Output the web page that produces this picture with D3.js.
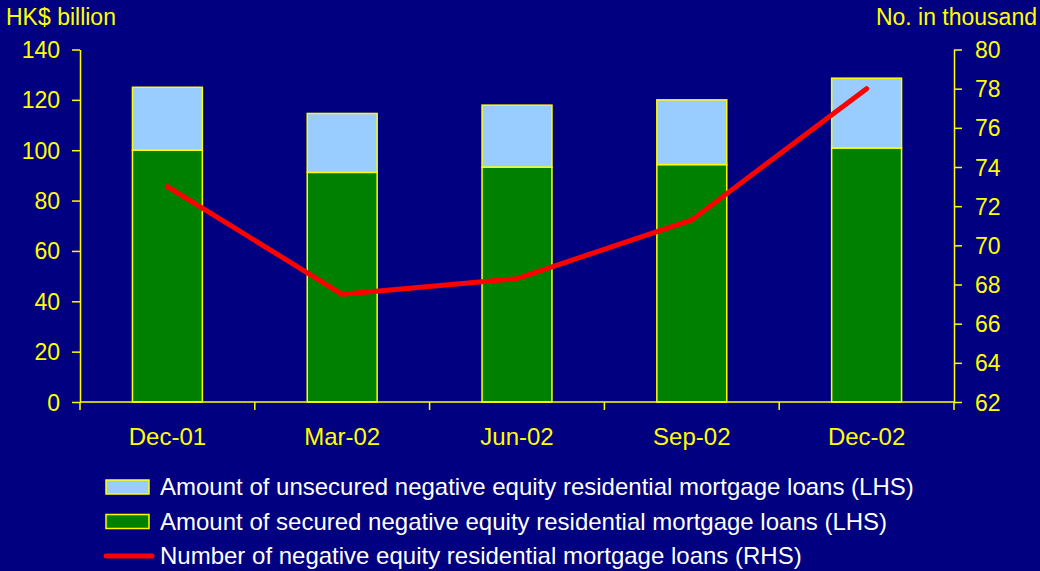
<!DOCTYPE html>
<html>
<head>
<meta charset="utf-8">
<script src="https://cdn.jsdelivr.net/npm/d3@7"></script>
<style>
  html, body { margin: 0; padding: 0; background: #000080; }
  svg { display: block; font-family: "Liberation Sans", Arial, sans-serif; }
</style>
</head>
<body>
<svg id="chart" width="1040" height="571"></svg>
<script>
// Quarter-end categories
const categories = ["Dec-01", "Mar-02", "Jun-02", "Sep-02", "Dec-02"];
// Secured negative equity loans, HK$ billion
const secured = [100, 91.2, 93.3, 94.3, 100.9];
// Unsecured portion, HK$ billion (stacked on top of secured)
const unsecured = [25, 23.4, 24.6, 25.7, 27.7];
// Number of negative equity loans, thousand
const numberLoans = [73.0, 67.5, 68.3, 71.3, 78.0];

const leftTicks = [0, 20, 40, 60, 80, 100, 120, 140];
const rightTicks = [62, 64, 66, 68, 70, 72, 74, 76, 78, 80];

const legendItems = [
  { label: "Amount of unsecured negative equity residential mortgage loans (LHS)", type: "box", color: "#99CCFF" },
  { label: "Amount of secured negative equity residential mortgage loans (LHS)", type: "box", color: "#008000" },
  { label: "Number of negative equity residential mortgage loans (RHS)", type: "line", color: "#FF0000" }
];

const YELLOW = "#FFFF00";
const svg = d3.select("#chart");

const plotLeft = 80, plotRight = 954, plotTop = 49.5, plotBottom = 402;

const xBand = d3.scaleBand().domain(categories).range([plotLeft, plotRight]);
const yL = d3.scaleLinear().domain([0, 140]).range([plotBottom, plotTop]);
const yR = d3.scaleLinear().domain([62, 80]).range([plotBottom, plotTop]);
const barWidth = xBand.bandwidth() * 0.4;
const cx = c => xBand(c) + xBand.bandwidth() / 2;

// Bars: secured (bottom) and unsecured (top)
const g = svg.append("g");
categories.forEach((c, i) => {
  const bx = cx(c) - barWidth / 2;
  g.append("rect")
    .attr("x", bx).attr("width", barWidth)
    .attr("y", yL(secured[i])).attr("height", yL(0) - yL(secured[i]))
    .attr("fill", "#008000").attr("stroke", YELLOW).attr("stroke-width", 1.5);
  g.append("rect")
    .attr("x", bx).attr("width", barWidth)
    .attr("y", yL(secured[i] + unsecured[i])).attr("height", yL(secured[i]) - yL(secured[i] + unsecured[i]))
    .attr("fill", "#99CCFF").attr("stroke", YELLOW).attr("stroke-width", 1.5);
});

// Axes
const axisStyle = sel => {
  sel.selectAll("path, line").attr("stroke", YELLOW).attr("stroke-width", 1.5);
  sel.selectAll("text").attr("fill", YELLOW).style("font-size", "23px")
    .style("font-family", "'Liberation Sans', Arial, sans-serif");
};

svg.append("g").attr("transform", `translate(${plotLeft},0)`)
  .call(d3.axisLeft(yL).tickValues(leftTicks).tickSize(8).tickSizeOuter(0).tickPadding(12))
  .call(axisStyle)
  .call(s => s.selectAll("text").attr("dy", "0.35em"));

svg.append("g").attr("transform", `translate(${plotRight},0)`)
  .call(d3.axisRight(yR).tickValues(rightTicks).tickSize(8).tickSizeOuter(0).tickPadding(13))
  .call(axisStyle)
  .call(s => s.selectAll("text").attr("dy", "0.35em"));

// Bottom axis: ticks at category boundaries
const bounds = categories.map(c => xBand(c)).concat([plotRight]);
const xg = svg.append("g");
xg.append("line").attr("x1", plotLeft).attr("x2", plotRight).attr("y1", plotBottom).attr("y2", plotBottom)
  .attr("stroke", YELLOW).attr("stroke-width", 1.5);
xg.selectAll("line.tick").data(bounds).join("line")
  .attr("class", "tick")
  .attr("x1", d => d).attr("x2", d => d).attr("y1", plotBottom).attr("y2", plotBottom + 8)
  .attr("stroke", YELLOW).attr("stroke-width", 1.5);
xg.selectAll("text").data(categories).join("text")
  .attr("x", c => cx(c))
  .attr("y", 445)
  .attr("text-anchor", "middle")
  .attr("fill", YELLOW).style("font-size", "24px")
  .text(d => d);

// Line: number of loans
const line = d3.line()
  .x((d, i) => cx(categories[i]))
  .y(d => yR(d));
svg.append("path").datum(numberLoans)
  .attr("d", line).attr("fill", "none")
  .attr("stroke", "#FF0000").attr("stroke-width", 5)
  .attr("stroke-linecap", "round").attr("stroke-linejoin", "round");

// Unit labels
svg.append("text").attr("x", 6).attr("y", 25).attr("fill", YELLOW)
  .style("font-size", "23px").text("HK$ billion");
svg.append("text").attr("x", 1037).attr("y", 25).attr("fill", YELLOW)
  .attr("text-anchor", "end").style("font-size", "23px").text("No. in thousand");

// Legend
const lg = svg.append("g");
legendItems.forEach((item, i) => {
  const cy = 487 + i * 34.5;
  if (item.type === "box") {
    lg.append("rect").attr("x", 106).attr("y", cy - 7).attr("width", 43).attr("height", 14)
      .attr("fill", item.color).attr("stroke", YELLOW).attr("stroke-width", 1.5);
  } else {
    lg.append("line").attr("x1", 106).attr("x2", 152).attr("y1", cy).attr("y2", cy)
      .attr("stroke", item.color).attr("stroke-width", 5).attr("stroke-linecap", "round");
  }
  lg.append("text").attr("x", 160).attr("y", cy).attr("dy", "0.35em")
    .attr("fill", "#FFFFFF").style("font-size", "24px").text(item.label);
});
</script>
</body>
</html>
